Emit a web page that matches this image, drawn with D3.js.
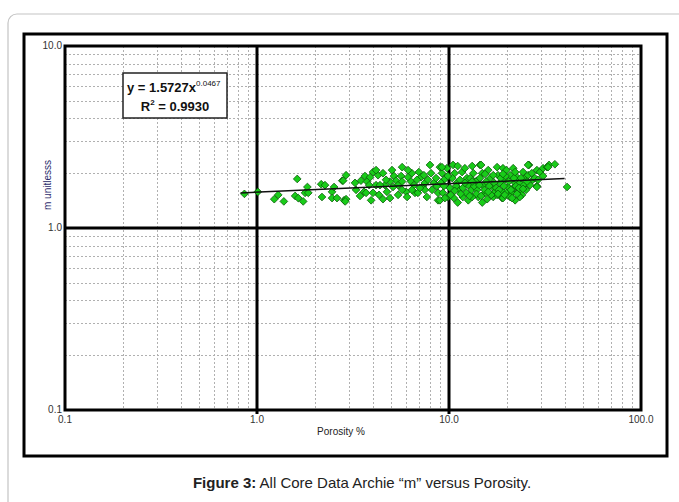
<!DOCTYPE html>
<html>
<head>
<meta charset="utf-8">
<script src="https://cdn.jsdelivr.net/npm/d3@7"></script>
<style>
  body { margin: 0; background: #fff; font-family: "Liberation Sans", Arial, sans-serif; }
  svg { display: block; }
</style>
</head>
<body>
<div id="chart"></div>
<script>
// porosity (%) and Archie m
const porosity = [
  0.86, 1.01, 1.62, 1.23, 1.29, 1.38, 1.58, 1.64, 1.74, 1.83, 1.78, 1.85, 2.16, 2.26, 2.18, 2.46, 2.52, 2.46, 2.61, 2.78, 2.84,
  2.91, 2.81, 2.91, 2.88, 3.24, 3.48, 3.65, 3.74, 4.02, 3.88, 3.84, 3.61, 3.70, 4.02, 3.93, 4.32, 4.27, 4.53, 4.64, 4.75, 4.93,
  5.17, 5.30, 5.43, 5.63, 5.70, 5.70, 5.98, 6.12, 6.34, 6.41, 6.57, 6.65, 6.89, 6.97, 7.14, 7.31, 7.49, 7.67, 7.96, 8.06, 8.36,
  8.66, 8.77, 5.11, 6.05, 7.49, 4.53, 4.17, 4.93,
  8.97, 9.19, 9.08, 9.52, 9.30, 8.77, 9.75, 10.5, 10.7, 11.0, 11.3, 10.6, 11.1, 11.7, 12.1, 12.4, 12.6, 13.1, 11.8, 12.6, 13.4,
  13.7, 14.2, 14.5, 14.9, 15.1, 15.4, 15.8, 16.0, 16.4, 16.8, 17.4, 17.8, 18.0, 18.4, 18.9, 17.0, 14.9, 13.2, 10.1, 9.86, 14.0,
  19.1, 19.9, 20.8, 21.6, 22.6, 22.1, 19.5, 20.3, 19.1, 19.9, 19.1, 21.3, 22.9, 22.1, 23.4, 24.3, 24.9, 24.0, 26.1, 25.8, 27.0,
  27.3, 28.7, 28.7, 29.8, 30.9, 32.4, 33.2, 35.6, 30.9, 41.2, 21.6, 20.8,
  9.19, 14.7, 25.8, 32.8, 28.7, 8.97, 9.52, 17.8, 23.4,
  10.4, 10.9, 11.4, 11.8, 12.3, 12.9, 13.5, 14.0, 14.5, 15.3, 15.6, 16.2, 16.6, 17.2, 17.6, 18.2, 18.6, 19.3, 19.7, 20.5, 21.0,
  21.8, 22.3, 23.1, 23.7, 24.6, 25.2, 26.4, 28.0, 29.1, 9.41, 9.86, 10.2, 10.7, 11.5, 12.8, 13.9, 14.7, 16.0, 18.0, 19.5, 21.3,
  22.6, 24.3, 25.5, 12.1, 13.2, 14.4, 15.4, 17.0, 19.1, 22.1, 13.2, 11.1, 7.77, 7.40, 8.16, 8.56, 7.06, 6.81, 6.41, 6.12, 5.70,
  5.43, 5.05, 4.70, 4.37, 4.17, 3.44, 3.28
];
const mValues = [
  1.54, 1.58, 1.86, 1.44, 1.52, 1.40, 1.50, 1.46, 1.40, 1.68, 1.56, 1.56, 1.74, 1.72, 1.48, 1.58, 1.68, 1.46, 1.46, 1.82, 1.42,
  1.95, 1.82, 1.44, 1.40, 1.77, 1.82, 1.93, 1.80, 2.03, 1.90, 1.72, 1.58, 1.56, 1.56, 1.42, 1.52, 1.95, 2.00, 1.72, 1.58, 1.46,
  1.93, 1.82, 1.72, 1.93, 2.16, 1.80, 1.58, 1.90, 1.80, 2.00, 1.72, 1.56, 1.56, 2.03, 1.90, 1.70, 1.62, 1.48, 2.22, 2.00, 1.77,
  1.70, 1.56, 1.68, 1.48, 1.77, 1.44, 1.72, 1.80,
  2.16, 2.00, 1.77, 1.86, 1.56, 1.42, 2.13, 2.22, 2.00, 1.77, 1.62, 1.46, 1.38, 2.03, 2.13, 1.88, 1.72, 1.62, 1.48, 1.42, 2.00,
  1.80, 1.48, 2.22, 2.00, 1.70, 1.56, 1.44, 2.08, 1.88, 1.68, 1.58, 2.16, 1.95, 1.77, 1.46, 1.48, 1.38, 1.48, 1.66, 1.48, 1.62,
  2.13, 2.08, 1.95, 2.13, 1.90, 1.77, 1.84, 1.68, 1.58, 1.56, 1.46, 1.56, 1.58, 1.42, 1.77, 2.03, 1.88, 1.52, 2.22, 1.95, 2.00,
  1.84, 2.08, 1.70, 2.03, 2.13, 2.16, 2.22, 2.24, 1.93, 1.68, 1.66, 1.48,
  2.16, 2.22, 2.22, 2.16, 1.68, 1.42, 1.46, 1.52, 1.48,
  1.88, 1.70, 1.84, 1.66, 1.56, 1.88, 1.70, 1.82, 1.88, 1.62, 1.80, 1.70, 1.52, 1.77, 1.66, 1.62, 1.88, 1.70, 1.93, 1.80, 1.62,
  1.88, 1.70, 1.66, 1.88, 1.72, 1.62, 1.72, 1.88, 1.84, 1.70, 1.93, 1.52, 1.60, 1.54, 1.50, 1.54, 1.50, 1.58, 1.54, 1.52, 1.46,
  1.54, 1.64, 1.80, 1.77, 1.80, 1.72, 1.98, 1.95, 1.98, 2.03, 2.19, 2.19, 1.84, 1.95, 1.62, 1.88, 1.66, 1.84, 1.62, 2.08, 1.62,
  1.52, 2.08, 1.84, 1.72, 2.08, 1.50, 1.62
];

const xTickLabels = ['0.1', '1.0', '10.0', '100.0'];
const yTickLabels = ['0.1', '1.0', '10.0'];
const decades = [0.1, 1, 10, 100];

// power-law fit shown in the box
const fitCoef = 1.5727;
const fitExp = 0.0467;
const fitRange = [0.82, 40];

const width = 679;
const height = 502;

const svg = d3.select('#chart')
  .append('svg')
  .attr('width', width)
  .attr('height', height);

// outer page box
svg.append('rect')
  .attr('x', 8).attr('y', 14)
  .attr('width', 700).attr('height', 520)
  .attr('rx', 9)
  .attr('fill', 'none')
  .attr('stroke', '#c4c4c4')
  .attr('stroke-width', 1.2);

// chart frame
svg.append('rect')
  .attr('x', 24).attr('y', 34)
  .attr('width', 643).attr('height', 422)
  .attr('fill', '#fff')
  .attr('stroke', '#000')
  .attr('stroke-width', 3);

const plot = { left: 65, right: 641, top: 46, bottom: 410 };

const xScale = d3.scaleLog().domain([0.1, 100]).range([plot.left, plot.right]);
const yScale = d3.scaleLog().domain([0.1, 10]).range([plot.bottom, plot.top]);

// minor gridlines (2..9 of each decade)
const isDecade = (v) => Math.abs(Math.log10(v) - Math.round(Math.log10(v))) < 1e-6;
const xMinor = xScale.ticks().filter((v) => !isDecade(v));
const yMinor = yScale.ticks().filter((v) => !isDecade(v));

const grid = svg.append('g').attr('class', 'grid')
  .attr('stroke', '#b0b0b0')
  .attr('stroke-width', 1)
  .attr('stroke-dasharray', '2,2');

grid.selectAll('line.vx')
  .data(xMinor)
  .join('line')
  .attr('class', 'vx')
  .attr('x1', (d) => Math.round(xScale(d)) + 0.5)
  .attr('x2', (d) => Math.round(xScale(d)) + 0.5)
  .attr('y1', plot.top)
  .attr('y2', plot.bottom);

grid.selectAll('line.hy')
  .data(yMinor)
  .join('line')
  .attr('class', 'hy')
  .attr('y1', (d) => Math.round(yScale(d)) + 0.5)
  .attr('y2', (d) => Math.round(yScale(d)) + 0.5)
  .attr('x1', plot.left)
  .attr('x2', plot.right);

// major decade lines
const major = svg.append('g').attr('stroke', '#000').attr('stroke-width', 3);
major.selectAll('line.mx')
  .data(decades.slice(1, 3))
  .join('line')
  .attr('class', 'mx')
  .attr('x1', (d) => xScale(d)).attr('x2', (d) => xScale(d))
  .attr('y1', plot.top).attr('y2', plot.bottom + 4);
major.selectAll('line.my')
  .data([1])
  .join('line')
  .attr('class', 'my')
  .attr('y1', (d) => yScale(d)).attr('y2', (d) => yScale(d))
  .attr('x1', plot.left).attr('x2', plot.right);

// plot border
svg.append('rect')
  .attr('x', plot.left).attr('y', plot.top)
  .attr('width', plot.right - plot.left).attr('height', plot.bottom - plot.top)
  .attr('fill', 'none')
  .attr('stroke', '#000')
  .attr('stroke-width', 3);

// points
const points = porosity.map((p, i) => ({ p, m: mValues[i] }));
const diamond = d3.symbol().type(d3.symbolDiamond2).size(38);

svg.append('g').attr('class', 'dots')
  .selectAll('path')
  .data(points)
  .join('path')
  .attr('d', diamond)
  .attr('transform', (d) => `translate(${xScale(d.p)},${yScale(d.m)})`)
  .attr('fill', '#19cc19')
  .attr('stroke', '#0a5c0a')
  .attr('stroke-width', 0.8);

// trend line
const line = d3.line()
  .x((d) => xScale(d))
  .y((d) => yScale(fitCoef * Math.pow(d, fitExp)));

svg.append('path')
  .datum(fitRange)
  .attr('d', line)
  .attr('fill', 'none')
  .attr('stroke', '#111')
  .attr('stroke-width', 1.5);

// tick labels
svg.append('g')
  .selectAll('text')
  .data(decades)
  .join('text')
  .attr('x', (d) => xScale(d))
  .attr('y', 423)
  .attr('text-anchor', 'middle')
  .attr('font-size', 10)
  .attr('fill', '#333')
  .text((d, i) => xTickLabels[i]);

svg.append('g')
  .selectAll('text')
  .data(decades.slice(0, 3))
  .join('text')
  .attr('x', plot.left - 3)
  .attr('y', (d) => yScale(d) + 3)
  .attr('text-anchor', 'end')
  .attr('font-size', 10)
  .attr('fill', '#333')
  .text((d, i) => yTickLabels[i]);

// axis titles
svg.append('text')
  .attr('x', 341).attr('y', 435)
  .attr('text-anchor', 'middle')
  .attr('font-size', 10)
  .attr('fill', '#222')
  .text('Porosity %');

svg.append('text')
  .attr('transform', 'translate(51,185) rotate(-90)')
  .attr('text-anchor', 'middle')
  .attr('font-size', 10)
  .attr('fill', '#2c2c6c')
  .text('m  unitlesss');

// equation box
const box = svg.append('g').attr('transform', 'translate(123,73)');
box.append('rect')
  .attr('width', 104).attr('height', 45)
  .attr('fill', '#fff')
  .attr('stroke', '#222')
  .attr('stroke-width', 1.5);

const eq = box.append('text')
  .attr('x', 4).attr('y', 19)
  .attr('font-size', 13)
  .attr('font-weight', 'bold')
  .attr('fill', '#111');
eq.append('tspan').text('y = ' + fitCoef + 'x');
eq.append('tspan')
  .attr('dy', -6)
  .attr('font-size', 8)
  .attr('font-weight', 'normal')
  .text('0.0467');

const r2 = box.append('text')
  .attr('x', 52).attr('y', 38)
  .attr('text-anchor', 'middle')
  .attr('font-size', 13)
  .attr('font-weight', 'bold')
  .attr('fill', '#111');
r2.append('tspan').text('R');
r2.append('tspan').attr('dy', -6).attr('font-size', 8).text('2');
r2.append('tspan').attr('dy', 6).text(' = 0.9930');

// caption
const cap = svg.append('text')
  .attr('x', 362).attr('y', 488)
  .attr('text-anchor', 'middle')
  .attr('font-size', 15)
  .attr('fill', '#222');
cap.append('tspan').attr('font-weight', 'bold').text('Figure 3:');
cap.append('tspan').text(' All Core Data Archie \u201cm\u201d versus Porosity.');
</script>
</body>
</html>
